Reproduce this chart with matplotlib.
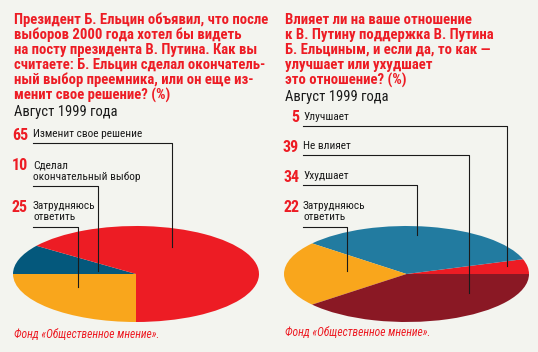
import matplotlib
matplotlib.use("Agg")
import matplotlib.pyplot as plt
import numpy as np

# ---------------- data ----------------
left_title = ["Президент Б. Ельцин объявил, что после",
              "выборов 2000 года хотел бы видеть",
              "на посту президента В. Путина. Как вы",
              "считаете: Б. Ельцин сделал окончатель-",
              "ный выбор преемника, или он еще из-",
              "менит свое решение? (%)"]
right_title = ["Влияет ли на ваше отношение",
               "к В. Путину поддержка В. Путина",
               "Б. Ельциным, и если да, то как —",
               "улучшает или ухудшает",
               "это отношение? (%)"]
subtitle = "Август 1999 года"
source = "Фонд «Общественное мнение»."

left_labels = ["Изменит свое решение", "Сделал\nокончательный выбор", "Затрудняюсь\nответить"]
left_values = [65, 10, 25]
right_labels = ["Улучшает", "Не влияет", "Ухудшает", "Затрудняюсь\nответить"]
right_values = [5, 39, 34, 22]

# pie drawing order
left_pie_order = [2, 1, 0]        # orange, blue, red: from bottom, clockwise
right_pie_order = [0, 2, 3, 1]    # red, blue, orange, dark red: from 0 deg, CCW

RED = "#ed1c24"
left_colors = ["#ed1c24", "#04587c", "#f9a61c"]
right_colors = ["#ed1c24", "#8a1824", "#227ba0", "#f9a61c"]
BG = "#f3f4ef"
INK = "#1a1a1a"

W, H = 538, 352
fig = plt.figure(figsize=(W / 100, H / 100), dpi=100, facecolor=BG)

FONT = ["Roboto Condensed", "DejaVu Sans"]

def fig_axes(x0, y0, x1, y1):
    return fig.add_axes([x0 / W, 1 - y1 / H, (x1 - x0) / W, (y1 - y0) / H])

# ---------------- pies ----------------
axL = fig_axes(13, 226, 259, 322)
vals = [left_values[i] for i in left_pie_order]
cols = [left_colors[i] for i in left_pie_order]
axL.pie(vals, colors=cols, startangle=270, counterclock=False, radius=1,
        wedgeprops=dict(linewidth=0))
axL.set_aspect("auto"); axL.set_xlim(-1, 1); axL.set_ylim(-1, 1); axL.axis("off")

axR = fig_axes(284, 226, 529, 322)
vals = [right_values[i] for i in right_pie_order]
cols = [right_colors[i] for i in right_pie_order]
axR.pie(vals, colors=cols, startangle=0, counterclock=True, radius=1,
        wedgeprops=dict(linewidth=0))
axR.set_aspect("auto"); axR.set_xlim(-1, 1); axR.set_ylim(-1, 1); axR.axis("off")

# ---------------- overlay ----------------
ov = fig.add_axes([0, 0, 1, 1], zorder=5)
ov.set_xlim(0, W); ov.set_ylim(H, 0); ov.axis("off"); ov.patch.set_alpha(0)

def title(lines, x, y0):
    for k, ln in enumerate(lines):
        ov.text(x, y0 + 15 * k, ln, color=RED, fontsize=10.6, fontweight="bold",
                family=FONT, va="center", ha="left")

title(left_title, 14, 20)
ov.text(14, 112, subtitle, fontsize=10.5, family=FONT, va="center", color=INK)
title(right_title, 285, 20)
ov.text(285, 97, subtitle, fontsize=10.5, family=FONT, va="center", color=INK)

ov.text(14, 335, source, fontsize=8.3, family=FONT, style="italic", color=RED, va="center")
ov.text(285, 333, source, fontsize=8.3, family=FONT, style="italic", color=RED, va="center")

def label(val, txt, x_num, x_txt, y, line_y, x_end, y_end):
    ov.text(x_num, y, str(val), color=RED, fontsize=11.5, fontweight="bold",
            family=FONT, ha="right", va="center")
    ov.text(x_txt, y - 6, txt, fontsize=8.2, family=FONT, ha="left", va="top",
            color=INK, linespacing=1.15)
    ov.plot([x_txt, x_end, x_end], [line_y, line_y, y_end], color=INK, lw=0.8)

# left labels
label(left_values[0], left_labels[0], 28, 33, 135, 143, 172, 247)
label(left_values[1], left_labels[1], 28, 33, 166, 186, 98, 271)
label(left_values[2], left_labels[2], 28, 33, 207, 227, 78, 287)

# right labels
label(right_values[0], right_labels[0], 299, 303, 118, 126, 507, 266)
label(right_values[1], right_labels[1], 299, 303, 147, 155, 469, 293)
label(right_values[2], right_labels[2], 299, 303, 177, 185, 417, 235)
label(right_values[3], right_labels[3], 299, 303, 207, 227, 347, 271)

fig.savefig("out.png", dpi=100, facecolor=BG)
